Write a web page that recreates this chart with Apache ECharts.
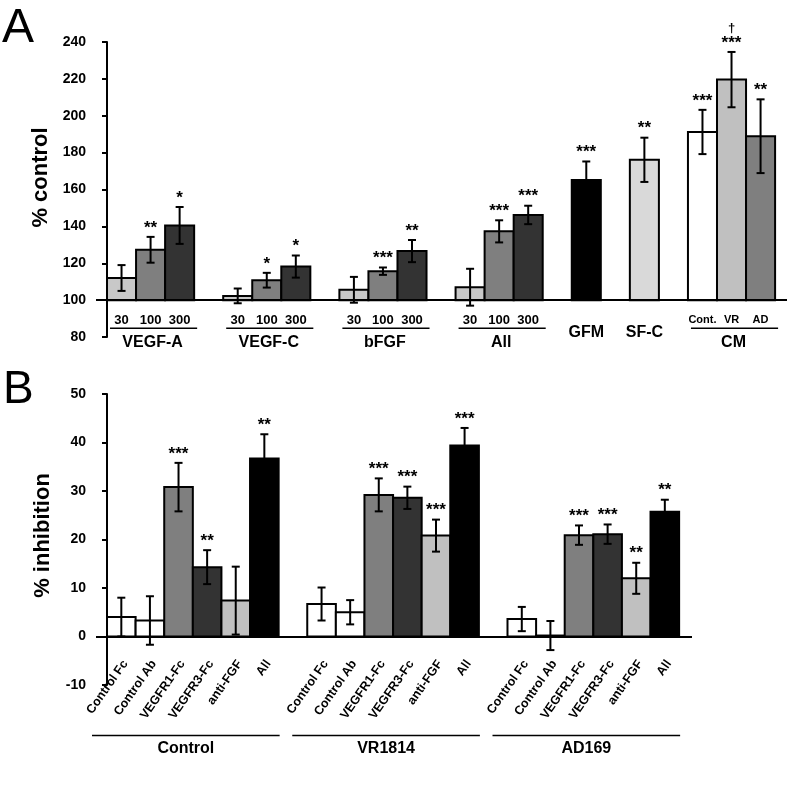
<!DOCTYPE html>
<html>
<head>
<meta charset="utf-8">
<title>Figure</title>
<script src="https://cdn.jsdelivr.net/npm/echarts@6/dist/echarts.min.js"></script>
<style>
    html, body { margin: 0; padding: 0; background: #fff; }
    #main { width: 791px; height: 788px; }
</style>
</head>
<body>
<div id="main"></div>
<script>
// ---- panel A : % control ----
var aGroups = ['VEGF-A', 'VEGF-C', 'bFGF', 'All', 'GFM', 'SF-C', 'CM'];
var aBarLabels = [['30', '100', '300'], ['30', '100', '300'], ['30', '100', '300'], ['30', '100', '300'], [''], [''], ['Cont.', 'VR', 'AD']];
var aValues = [[112, 127.3, 140.5], [102.3, 110.8, 118.2], [105.6, 115.7, 126.6], [107, 137.3, 146.2], [165.2], [176.1], [191.2, 219.6, 188.9]];
var aErrors = [[7, 7, 10], [4, 4, 6], [7, 2, 6], [10, 6, 5], [10], [12], [12, 15, 20]];
var aStars = [['', '**', '*'], ['', '*', '*'], ['', '***', '**'], ['', '***', '***'], ['***'], ['**'], ['***', '***', '**']];
var aDaggers = [['', '', ''], ['', '', ''], ['', '', ''], ['', '', ''], [''], [''], ['', '\u2020', '']];
var aTicks = [80, 100, 120, 140, 160, 180, 200, 220, 240];

// ---- panel B : % inhibition ----
var bGroups = ['Control', 'VR1814', 'AD169'];
var bTreatments = ['Control Fc', 'Control Ab', 'VEGFR1-Fc', 'VEGFR3-Fc', 'anti-FGF', 'All'];
var bValues = [[4.0, 3.3, 30.8, 14.3, 7.4, 36.7], [6.7, 5.0, 29.2, 28.6, 20.8, 39.4], [3.6, 0.2, 20.9, 21.1, 12.0, 25.7]];
var bErrors = [[4, 5, 5, 3.5, 7, 5], [3.4, 2.5, 3.4, 2.3, 3.3, 3.6], [2.5, 3, 2, 2, 3.2, 2.5]];
var bStars = [['', '', '***', '**', '', '**'], ['', '', '***', '***', '***', '***'], ['', '', '***', '***', '**', '**']];
var bTicks = [-10, 0, 10, 20, 30, 40, 50];

var FONT = '"Liberation Sans", Arial, sans-serif';
var LIGHT = '#c8c8c8', MID = '#7f7f7f', DARK = '#333333';

var panelA = {
    base: 100,
    labels: aBarLabels,
    stars: aStars,
    daggers: aDaggers,
    colors: [[LIGHT, MID, DARK], [LIGHT, MID, DARK], [LIGHT, MID, DARK], [LIGHT, MID, DARK], ['#000000'], ['#d9d9d9'], ['#ffffff', '#c0c0c0', MID]]
};
var panelB = {
    base: 0,
    stars: bStars,
    colors: ['#ffffff', '#ffffff', MID, DARK, '#c0c0c0', '#000000']
};

// one slot per bar, one empty slot between groups
function buildBars(values, errors) {
    var bars = [], groups = [], slot = 0;
    values.forEach(function (grp, g) {
        var start = slot;
        grp.forEach(function (v, i) {
            bars.push([slot, v, errors[g][i], g, i]);
            slot++;
        });
        groups.push([start, slot, g]);
        slot++;
    });
    return { bars: bars, groups: groups };
}

var layoutA = buildBars(aValues, aErrors);
var layoutB = buildBars(bValues, bErrors);

function line(x1, y1, x2, y2, w) {
    return { type: 'line', shape: { x1: x1, y1: y1, x2: x2, y2: y2 }, style: { stroke: '#000', lineWidth: w || 2 } };
}
function text(x, y, str, font, opt) {
    opt = opt || {};
    return {
        type: 'text', x: x, y: y, rotation: opt.rotation || 0,
        style: { text: str, fill: '#000', font: font, align: opt.align || 'center', verticalAlign: opt.valign || 'middle' }
    };
}

function renderBar(panel, isB) {
    return function (params, api) {
        var slot = api.value(0), v = api.value(1), err = api.value(2);
        var g = api.value(3), i = api.value(4);
        var pb = api.coord([slot, panel.base]);
        var pt = api.coord([slot + 1, v]);
        var x = pb[0], w = pt[0] - pb[0], cx = x + w / 2;
        var yHi = api.coord([slot, v + err])[1];
        var yLo = api.coord([slot, v - err])[1];
        var fill = isB ? panel.colors[i] : panel.colors[g][i];
        var kids = [
            { type: 'rect', shape: { x: x, y: Math.min(pt[1], pb[1]), width: w, height: Math.abs(pb[1] - pt[1]) },
              style: { fill: fill, stroke: '#000', lineWidth: 2 } },
            line(cx, yHi, cx, yLo),
            line(cx - 4, yHi, cx + 4, yHi),
            line(cx - 4, yLo, cx + 4, yLo)
        ];
        var star = panel.stars[g][i];
        if (star) kids.push(text(cx, yHi - 9, star, 'bold 17px ' + FONT));
        if (!isB) {
            if (panel.daggers[g][i]) kids.push(text(cx, yHi - 24, panel.daggers[g][i], 'bold 13px ' + FONT));
            var lab = panel.labels[g][i];
            if (lab) {
                var small = lab.length > 3 || /[A-Z]/.test(lab);
                kids.push(text(cx, pb[1] + 20, lab, 'bold ' + (small ? 11 : 13) + 'px ' + FONT));
            }
        } else {
            // slanted treatment names under each bar
            kids.push(text(cx + 4, pb[1] + 25, bTreatments[i], 'bold 12.5px ' + FONT,
                { align: 'right', rotation: 55 * Math.PI / 180 }));
        }
        return { type: 'group', children: kids };
    };
}

function renderGroupA(params, api) {
    var s = api.value(0), e = api.value(1), g = api.value(2);
    var p0 = api.coord([s, 100]), p1 = api.coord([e, 100]);
    var cx = (p0[0] + p1[0]) / 2;
    var name = aGroups[g];
    if (e - s === 1) {
        return text(cx, p0[1] + 32, name, 'bold 16px ' + FONT);
    }
    return { type: 'group', children: [
        line(p0[0] + 3, p0[1] + 28, p1[0] + 3, p0[1] + 28, 1.5),
        text(cx + 2, p0[1] + 42, name, 'bold 16px ' + FONT)
    ] };
}

function renderGroupB(params, api) {
    var s = api.value(0), e = api.value(1), g = api.value(2);
    var p0 = api.coord([s, 0]), p1 = api.coord([e, 0]);
    var x0 = p0[0] - 15, x1 = p1[0] + 1;
    return { type: 'group', children: [
        line(x0, p0[1] + 99, x1, p0[1] + 99, 1.5),
        text((x0 + x1) / 2, p0[1] + 112, bGroups[g], 'bold 16px ' + FONT)
    ] };
}

function yAxisBase(ticks, name, grid, pad) {
    return {
        type: 'value', gridIndex: grid,
        min: ticks[0], max: ticks[ticks.length - 1], interval: ticks[1] - ticks[0],
        name: name, nameLocation: 'middle', nameGap: 42,
        nameTextStyle: { color: '#000', fontFamily: FONT, fontWeight: 'bold', fontSize: 22, padding: pad },
        axisLine: { show: true, lineStyle: { color: '#000', width: 2 } },
        axisTick: { show: true, inside: false, length: 5, lineStyle: { color: '#000', width: 2 } },
        axisLabel: { color: '#000', fontFamily: FONT, fontWeight: 'bold', fontSize: 14, margin: 10 },
        splitLine: { show: false }
    };
}

var baseLine = function (y) {
    return {
        silent: true, symbol: 'none', label: { show: false },
        lineStyle: { color: '#000', width: 2, type: 'solid' },
        data: [{ yAxis: y }]
    };
};

var chart = echarts.init(document.getElementById('main'), null, { renderer: 'canvas' });
chart.setOption({
    animation: false,
    backgroundColor: '#fff',
    grid: [
        { left: 96, top: 42, width: 691, height: 295 },
        { left: 96, top: 394, width: 596, height: 291 }
    ],
    xAxis: [
        { type: 'value', gridIndex: 0, min: -0.379, max: 23.41, show: false },
        { type: 'value', gridIndex: 1, min: -0.385, max: 20.45, show: false }
    ],
    yAxis: [
        yAxisBase(aTicks, '% control', 0, [0, 0, 0, 24]),
        yAxisBase(bTicks, '% inhibition', 1, [0, 0, 0, 8])
    ],
    graphic: [
        { type: 'text', left: 2, top: 5, style: { text: 'A', font: '48px ' + FONT, fill: '#000' } },
        { type: 'text', left: 3, top: 367, style: { text: 'B', font: '46px ' + FONT, fill: '#000' } }
    ],
    series: [
        { type: 'custom', xAxisIndex: 0, yAxisIndex: 0, data: layoutA.bars, renderItem: renderBar(panelA, false), markLine: baseLine(100), z: 3 },
        { type: 'custom', xAxisIndex: 0, yAxisIndex: 0, data: layoutA.groups, renderItem: renderGroupA },
        { type: 'custom', xAxisIndex: 1, yAxisIndex: 1, data: layoutB.bars, renderItem: renderBar(panelB, true), markLine: baseLine(0), z: 3 },
        { type: 'custom', xAxisIndex: 1, yAxisIndex: 1, data: layoutB.groups, renderItem: renderGroupB }
    ]
});
</script>
</body>
</html>
